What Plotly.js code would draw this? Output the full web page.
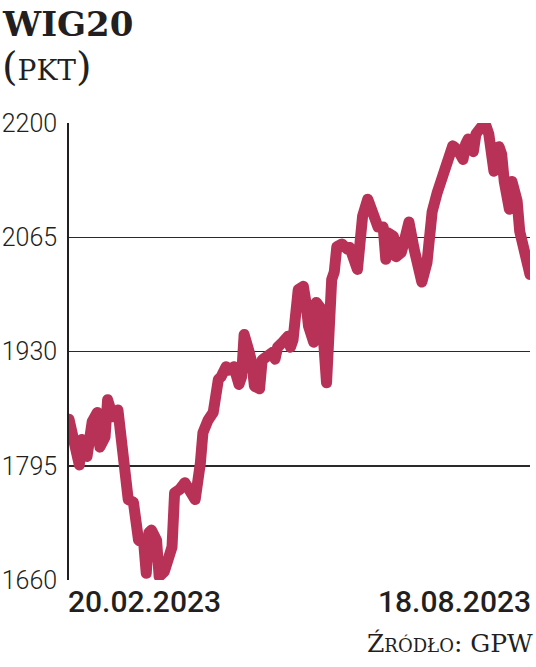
<!DOCTYPE html>
<html>
<head>
<meta charset="utf-8">
<script src="https://cdn.plot.ly/plotly-3.0.1.min.js"></script>
<style>
  html, body { margin: 0; padding: 0; background: #fff; }
  #chart { width: 536px; height: 667px; }
  .scatterlayer path.js-line { stroke-linejoin: round !important; stroke-linecap: round !important; }
</style>
</head>
<body>
<div id="chart"></div>
<script>
// WIG20 index, 20.02.2023 - 18.08.2023
const dates = [
  "2023-02-20","2023-02-22","2023-02-24","2023-02-25","2023-02-27","2023-03-01","2023-03-03","2023-03-04",
  "2023-03-06","2023-03-07","2023-03-09","2023-03-11","2023-03-12","2023-03-14","2023-03-15","2023-03-17",
  "2023-03-19","2023-03-21","2023-03-22","2023-03-23","2023-03-24","2023-03-26","2023-03-27","2023-03-29",
  "2023-04-01","2023-04-02","2023-04-04","2023-04-06","2023-04-08","2023-04-10","2023-04-12","2023-04-13",
  "2023-04-15","2023-04-17","2023-04-19","2023-04-20","2023-04-22","2023-04-23","2023-04-25","2023-04-26",
  "2023-04-27","2023-04-28","2023-04-29","2023-05-01","2023-05-02","2023-05-03","2023-05-05","2023-05-06",
  "2023-05-08","2023-05-10","2023-05-11","2023-05-12","2023-05-14","2023-05-16","2023-05-17","2023-05-18",
  "2023-05-20","2023-05-22","2023-05-23","2023-05-24","2023-05-26","2023-05-27","2023-05-29","2023-05-31",
  "2023-06-02","2023-06-03","2023-06-04","2023-06-06","2023-06-08","2023-06-09","2023-06-12","2023-06-14",
  "2023-06-16","2023-06-18","2023-06-20","2023-06-22","2023-06-23","2023-06-24","2023-06-26","2023-06-27",
  "2023-06-29","2023-06-30","2023-07-02","2023-07-04","2023-07-06","2023-07-07","2023-07-09","2023-07-11",
  "2023-07-13","2023-07-15","2023-07-17","2023-07-19","2023-07-21","2023-07-23","2023-07-24","2023-07-25",
  "2023-07-27","2023-07-28","2023-07-30","2023-08-01","2023-08-02","2023-08-03","2023-08-04","2023-08-06",
  "2023-08-07","2023-08-08","2023-08-10","2023-08-11","2023-08-13","2023-08-14","2023-08-16","2023-08-18"
];
const values = [
  1850,1820,1796,1826,1806,1847,1858,1817,
  1829,1873,1853,1861,1838,1782,1755,1752,
  1707,1704,1668,1716,1719,1707,1664,1670,
  1699,1763,1767,1775,1763,1755,1798,1834,
  1849,1858,1897,1900,1912,1908,1912,1891,
  1891,1900,1950,1929,1917,1889,1886,1920,
  1924,1929,1921,1935,1941,1948,1935,1944,
  2003,2007,1988,1960,1941,1988,1980,1893,
  2015,2024,2054,2057,2051,2053,2027,2090,
  2110,2090,2077,2077,2039,2070,2066,2042,
  2047,2058,2083,2051,2015,2012,2035,2095,
  2118,2136,2160,2173,2168,2157,2175,2181,
  2166,2187,2195,2196,2187,2143,2143,2172,
  2163,2131,2098,2131,2108,2072,2045,2021
];
const yTicks = [1660, 1795, 1930, 2065, 2200];
const xTickLabels = ["20.02.2023", "18.08.2023"];
const titleText = "WIG20";
const unitText = "(pkt)";
const sourceText = "Źródło: GPW";

const lineColor = "#b83258";
const ink = "#231f20";

const trace = {
  type: "scatter",
  mode: "lines",
  x: dates,
  y: values,
  line: { color: lineColor, width: 11 },
  cliponaxis: false,
  hoverinfo: "skip"
};

const layout = {
  width: 536,
  height: 667,
  margin: { l: 69, r: 6, t: 123, b: 87 },
  paper_bgcolor: "#fff",
  plot_bgcolor: "#fff",
  showlegend: false,
  xaxis: {
    type: "date",
    range: [dates[0], dates[dates.length - 1]],
    showgrid: false,
    zeroline: false,
    showline: false,
    showticklabels: false,
    ticks: ""
  },
  yaxis: {
    range: [yTicks[0], yTicks[yTicks.length - 1]],
    tickvals: yTicks,
    ticktext: yTicks.map(String),
    showgrid: true,
    gridcolor: "#2a2a2a",
    gridwidth: 1.5,
    zeroline: false,
    showline: true,
    linecolor: ink,
    linewidth: 1.8,
    ticks: "",
    ticklabelstandoff: 5,
    tickfont: { family: "Roboto", size: 25, color: ink, weight: 300 }
  },
  annotations: [
    {
      text: "<b>" + titleText + "</b>",
      xref: "paper", yref: "paper", x: -69 / 461, y: 1 + 121 / 457,
      xanchor: "left", yanchor: "top", showarrow: false,
      font: { family: "DejaVu Serif", size: 34, color: ink }
    },
    {
      text: unitText,
      xref: "paper", yref: "paper", x: -69 / 461, y: 1 + 82 / 457,
      xanchor: "left", yanchor: "top", showarrow: false,
      font: { family: "DejaVu Serif", size: 40, color: ink, variant: "small-caps" }
    },
    {
      text: xTickLabels[0],
      xref: "x", yref: "paper", x: dates[0], y: 0,
      xanchor: "left", yanchor: "top", yshift: -2, xshift: -3, showarrow: false,
      font: { family: "Roboto", size: 30, color: ink, weight: 500 }
    },
    {
      text: xTickLabels[1],
      xref: "x", yref: "paper", x: dates[dates.length - 1], y: 0,
      xanchor: "right", yanchor: "top", yshift: -2, xshift: 3, showarrow: false,
      font: { family: "Roboto", size: 30, color: ink, weight: 500 }
    },
    {
      text: sourceText,
      xref: "paper", yref: "paper", x: 1 + 5 / 461, y: -47 / 457,
      xanchor: "right", yanchor: "top", showarrow: false,
      font: { family: "DejaVu Serif", size: 25, color: ink, variant: "small-caps" }
    }
  ]
};

Plotly.newPlot("chart", [trace], layout, { staticPlot: true, displayModeBar: false });
</script>
</body>
</html>
